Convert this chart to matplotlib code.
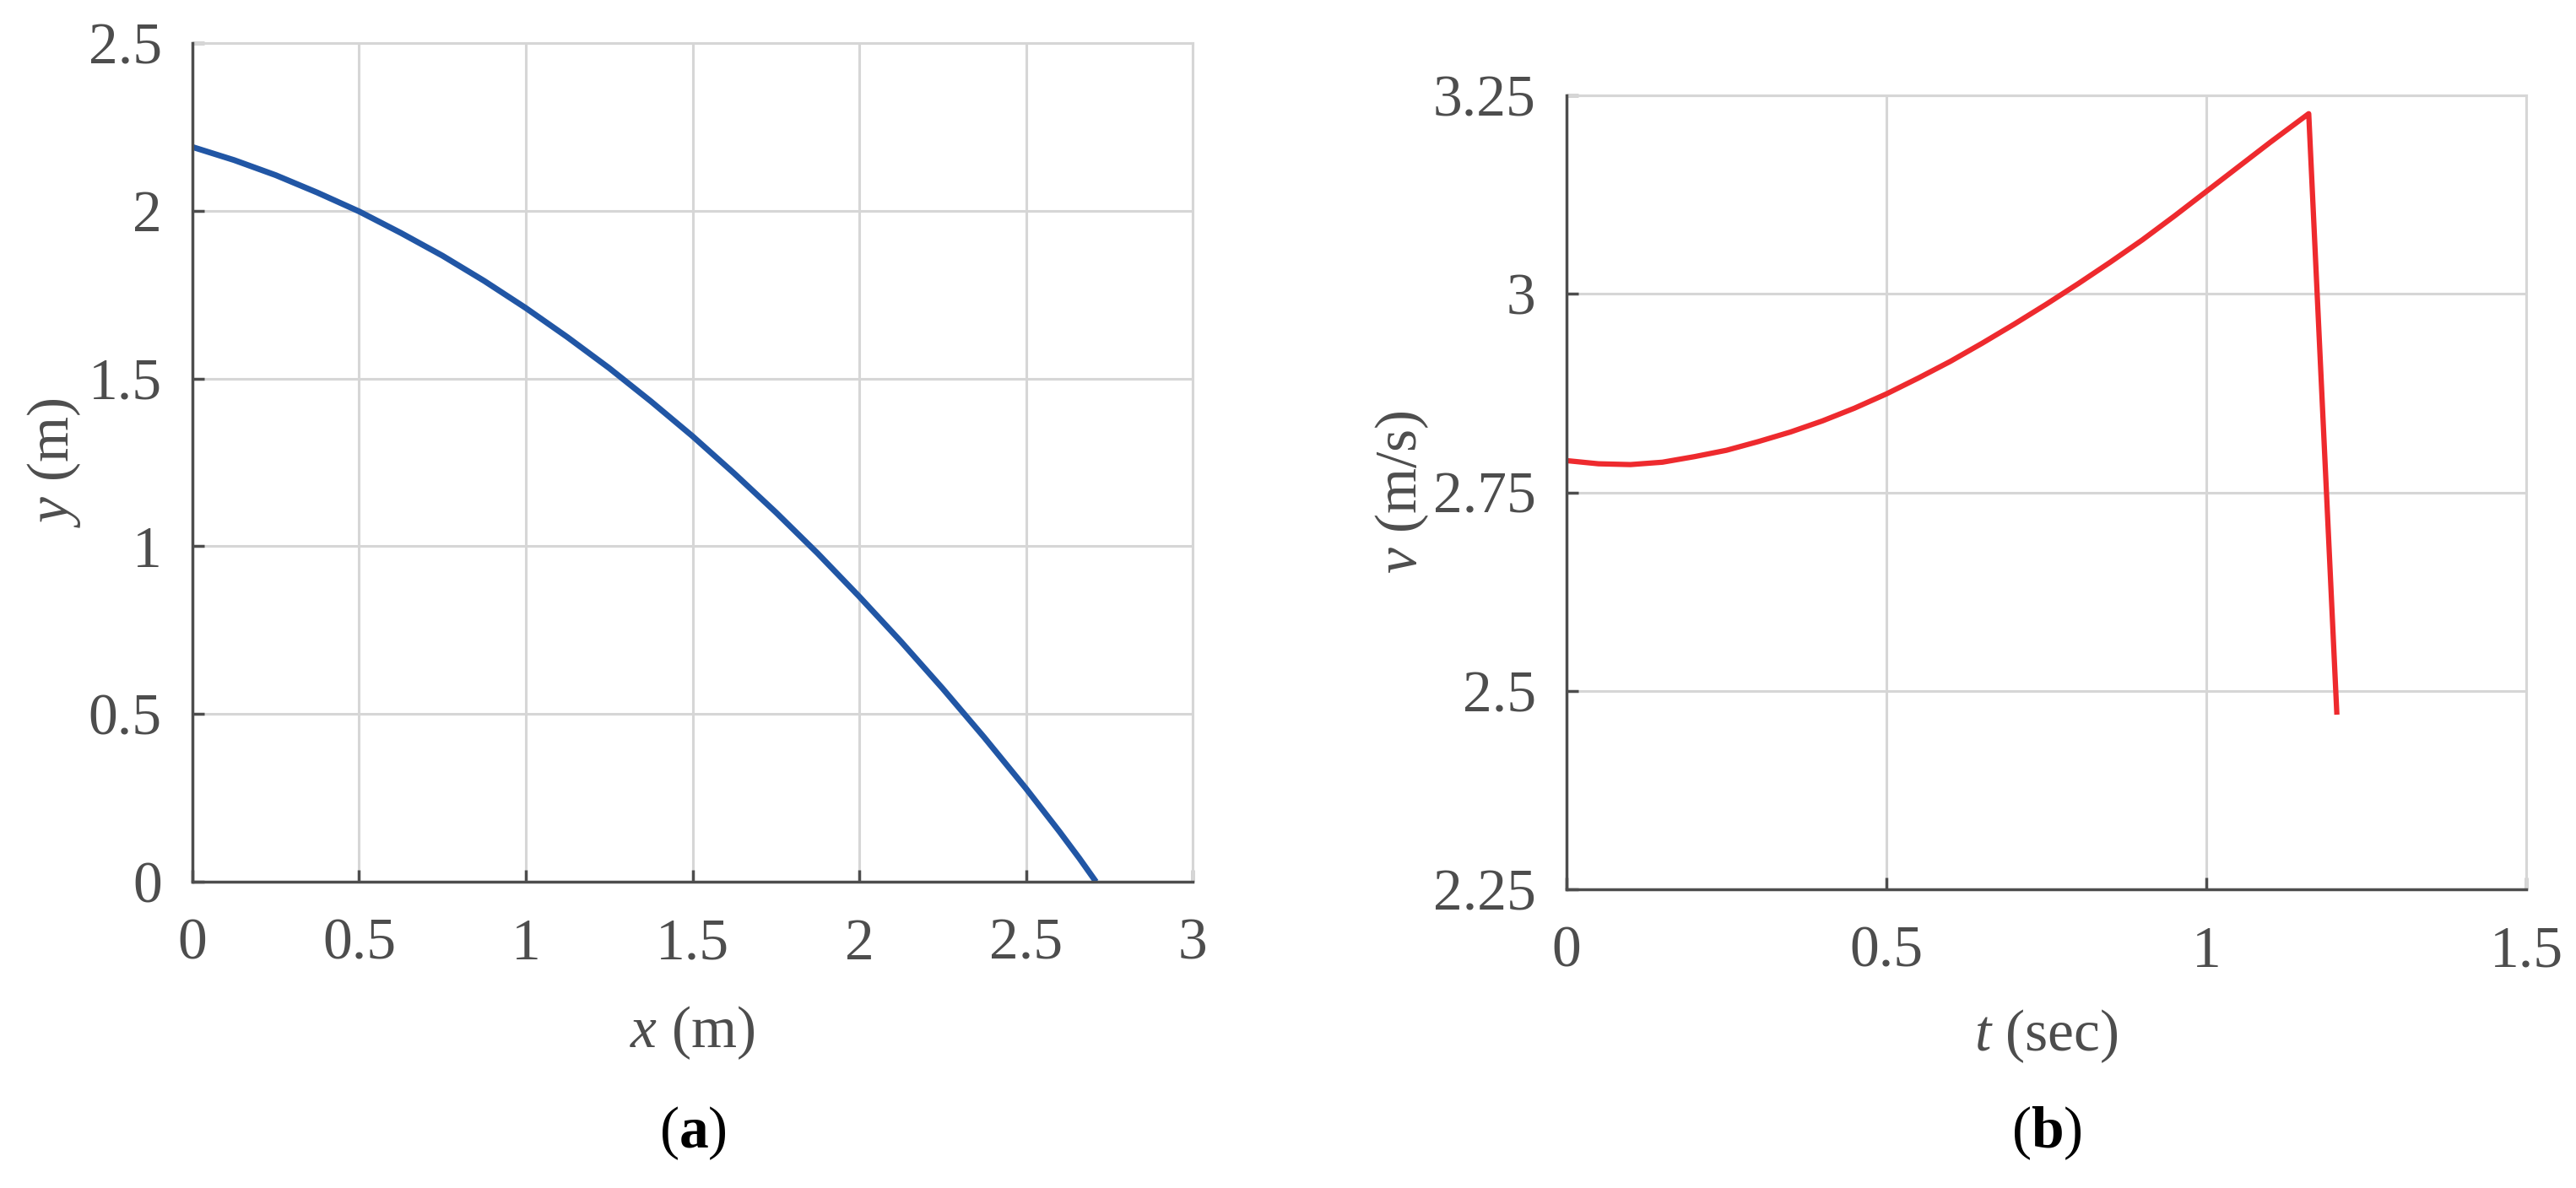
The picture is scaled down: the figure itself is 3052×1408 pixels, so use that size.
import matplotlib
matplotlib.use("Agg")
import matplotlib.pyplot as plt

# (a) trajectory
x_pos = [0.0, 0.125, 0.25, 0.375, 0.5, 0.625, 0.75, 0.875, 1.0, 1.125, 1.25, 1.375,
         1.5, 1.625, 1.75, 1.875, 2.0, 2.125, 2.25, 2.375, 2.5, 2.6, 2.66, 2.71]
y_pos = [2.19, 2.151, 2.106, 2.054, 1.998, 1.934, 1.866, 1.791, 1.71, 1.623, 1.531, 1.432,
         1.328, 1.217, 1.101, 0.979, 0.85, 0.716, 0.576, 0.43, 0.278, 0.15, 0.07, 0.0]

# (b) speed over time
t_sec = [0.0, 0.05, 0.1, 0.15, 0.2, 0.25, 0.3, 0.35, 0.4, 0.45, 0.5, 0.55, 0.6, 0.65,
         0.7, 0.75, 0.8, 0.85, 0.9, 0.95, 1.0, 1.05, 1.1, 1.16, 1.204]
v_ms = [2.790, 2.786, 2.785, 2.788, 2.795, 2.803, 2.814, 2.826, 2.840, 2.856, 2.874,
        2.894, 2.915, 2.938, 2.962, 2.987, 3.013, 3.040, 3.068, 3.098, 3.129, 3.160,
        3.191, 3.227, 2.470]

x_ticks = [0, 0.5, 1, 1.5, 2, 2.5, 3]
y_ticks = [0, 0.5, 1, 1.5, 2, 2.5]
t_ticks = [0, 0.5, 1, 1.5]
v_ticks = [2.25, 2.5, 2.75, 3, 3.25]

BLUE = "#2156a5"
RED = "#ee2a2e"
GRID = "#d6d6d6"
AXIS = "#4d4d4d"
FS = 50

plt.rcParams["font.family"] = ["Liberation Serif", "DejaVu Serif"]
plt.rcParams["mathtext.fontset"] = "custom"
plt.rcParams["mathtext.rm"] = "Liberation Serif"
plt.rcParams["mathtext.it"] = "Liberation Serif:italic"
plt.rcParams["mathtext.bf"] = "Liberation Serif:bold"

fig = plt.figure(figsize=(30.52, 14.08), dpi=100)
ax_a = fig.add_axes([0.0747, 0.2578, 0.3883, 0.7060])
ax_b = fig.add_axes([0.6081, 0.2514, 0.3726, 0.6683])


def style(ax):
    ax.grid(True, color=GRID, linewidth=2.2)
    ax.set_axisbelow(True)
    for side in ("top", "right"):
        ax.spines[side].set_color(GRID)
        ax.spines[side].set_linewidth(2.2)
    for side in ("left", "bottom"):
        ax.spines[side].set_color(AXIS)
        ax.spines[side].set_linewidth(2.5)
        ax.spines[side].set_zorder(5)
    ax.tick_params(direction="in", length=10, width=2.5, color=AXIS,
                   labelcolor=AXIS, labelsize=FS, top=False, right=False)
    ax.tick_params(axis="x", pad=31)
    ax.tick_params(axis="y", pad=26)


ax_a.plot(x_pos, y_pos, color=BLUE, linewidth=5, solid_capstyle="butt",
          solid_joinstyle="round", clip_on=False)
ax_a.set_xlim(0, 3)
ax_a.set_ylim(0, 2.5)
ax_a.set_xticks(x_ticks)
ax_a.set_xticklabels(["0", "0.5", "1", "1.5", "2", "2.5", "3"])
ax_a.set_yticks(y_ticks)
ax_a.set_yticklabels(["0", "0.5", "1", "1.5", "2", "2.5"])
style(ax_a)
ax_a.set_xlabel(r"$x$ (m)", fontsize=FS, color=AXIS, labelpad=28)
ax_a.set_ylabel(r"$y$ (m)", fontsize=FS, color=AXIS, labelpad=5)

ax_b.plot(t_sec, v_ms, color=RED, linewidth=4.5, solid_capstyle="butt",
          solid_joinstyle="round")
ax_b.set_xlim(0, 1.5)
ax_b.set_ylim(2.25, 3.25)
ax_b.set_xticks(t_ticks)
ax_b.set_xticklabels(["0", "0.5", "1", "1.5"])
ax_b.set_yticks(v_ticks)
ax_b.set_yticklabels(["2.25", "2.5", "2.75", "3", "3.25"])
style(ax_b)
ax_b.set_xlabel(r"$t$ (sec)", fontsize=FS, color=AXIS, labelpad=24)
ax_b.set_ylabel(r"$v$ (m/s)", fontsize=FS, color=AXIS, labelpad=2)

fig.text(0.2689, 0.046, r"($\mathbf{a}$)", fontsize=FS, color="black", ha="center", va="center")
fig.text(0.7944, 0.046, r"($\mathbf{b}$)", fontsize=FS, color="black", ha="center", va="center")

fig.savefig("out.png", dpi=100, facecolor="white")
